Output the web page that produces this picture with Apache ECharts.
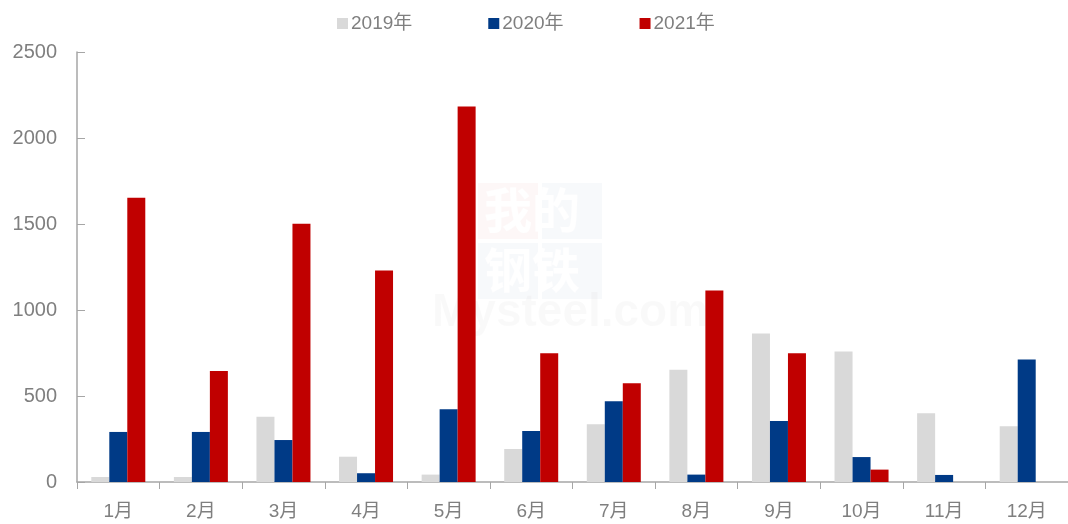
<!DOCTYPE html>
<html>
<head>
<meta charset="utf-8">
<script src="https://cdn.jsdelivr.net/npm/echarts@6/dist/echarts.min.js"></script>
<style>
  html, body { margin: 0; padding: 0; background: #fff; }
  #chart { width: 1068px; height: 524px; }
</style>
</head>
<body>
<div id="chart"></div>
<script>
// 月份
var months = ['1月', '2月', '3月', '4月', '5月', '6月', '7月', '8月', '9月', '10月', '11月', '12月']
var seriesNames = ['2019年', '2020年', '2021年']

// 各年数值
var data2019 = [29, 29, 380, 147, 43, 192, 336, 653, 863, 759, 400, 324]
var data2020 = [291, 291, 244, 51, 423, 297, 470, 43, 355, 145, 41, 712]
var data2021 = [1653, 645, 1502, 1230, 2183, 749, 574, 1114, 749, 72, 0, 0]

var yTicks = [0, 500, 1000, 1500, 2000, 2500]

var font = '"Liberation Sans", "Noto Sans CJK SC", sans-serif'
var textColor = '#7f7f7f'
var axisColor = '#a6a6a6'

var chart = echarts.init(document.getElementById('chart'))

chart.setOption({
  animation: false,
  textStyle: { fontFamily: font },
  color: ['#d9d9d9', '#003a86', '#c00000'],
  legend: {
    data: seriesNames,
    left: 332,
    top: 9,
    itemWidth: 11,
    itemHeight: 11,
    itemGap: 76,
    icon: 'rect',
    textStyle: { color: textColor, fontSize: 19, fontFamily: font, padding: [0, 0, 0, -2] }
  },
  graphic: [
    { type: 'rect', left: 478, top: 183, shape: { width: 60, height: 56 }, style: { fill: 'rgba(192,0,0,0.03)' }, silent: true },
    { type: 'rect', left: 542, top: 183, shape: { width: 60, height: 56 }, style: { fill: 'rgba(0,58,134,0.03)' }, silent: true },
    { type: 'rect', left: 478, top: 243, shape: { width: 60, height: 56 }, style: { fill: 'rgba(0,58,134,0.03)' }, silent: true },
    { type: 'rect', left: 542, top: 243, shape: { width: 60, height: 56 }, style: { fill: 'rgba(0,58,134,0.03)' }, silent: true },
    { type: 'text', left: 484, top: 186, style: { text: '我的', font: 'bold 48px "Noto Sans CJK SC"', fill: 'rgba(255,255,255,0.9)' }, silent: true },
    { type: 'text', left: 484, top: 246, style: { text: '钢铁', font: 'bold 48px "Noto Sans CJK SC"', fill: 'rgba(255,255,255,0.9)' }, silent: true },
    { type: 'text', left: 432, top: 290, style: { text: 'Mysteel.com', font: 'bold 46px "Liberation Sans"', fill: 'rgba(0,0,0,0.025)' }, silent: true }
  ],
  grid: {
    left: 77,
    right: -3,
    top: 52,
    bottom: 42
  },
  xAxis: {
    type: 'category',
    data: months,
    axisLine: { lineStyle: { color: axisColor, width: 1.5 } },
    axisTick: { show: true, length: 7, lineStyle: { color: axisColor } },
    axisLabel: { color: textColor, fontSize: 19, margin: 20, fontFamily: font }
  },
  yAxis: {
    type: 'value',
    min: yTicks[0],
    max: yTicks[yTicks.length - 1],
    interval: 500,
    axisLine: { show: true, lineStyle: { color: axisColor, width: 1.5 } },
    axisTick: { show: true, inside: true, length: 8, lineStyle: { color: axisColor } },
    splitLine: { show: false },
    axisLabel: {
      color: textColor,
      fontSize: 20,
      margin: 20,
      fontFamily: font,
      formatter: function (v) { return String(v) }
    }
  },
  series: [
    { name: seriesNames[0], type: 'bar', data: data2019, barWidth: 18, barGap: '0%' },
    { name: seriesNames[1], type: 'bar', data: data2020, barWidth: 18, barGap: '0%' },
    { name: seriesNames[2], type: 'bar', data: data2021, barWidth: 18, barGap: '0%' }
  ]
})
</script>
</body>
</html>
